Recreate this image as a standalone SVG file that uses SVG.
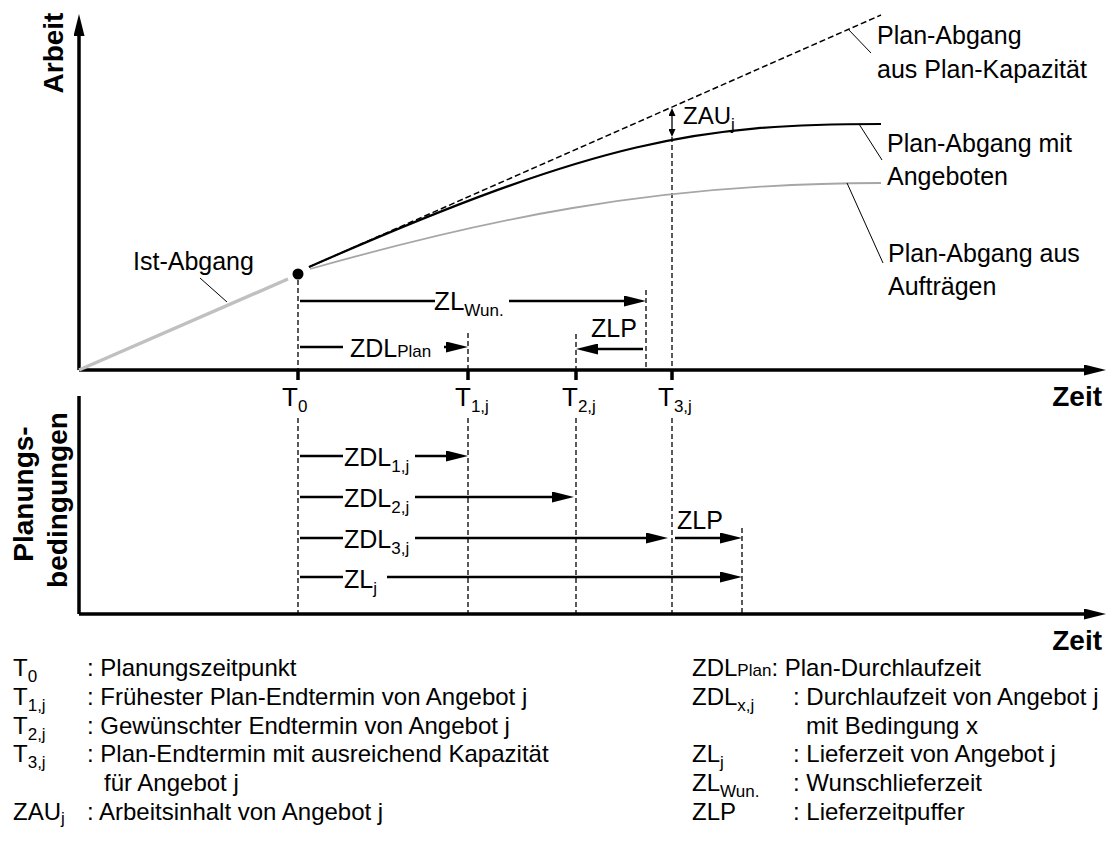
<svg xmlns="http://www.w3.org/2000/svg" width="1111" height="847" viewBox="0 0 1111 847">
<style>
text{font-family:"Liberation Sans",Arial,sans-serif;fill:#000}
.lbl{font-size:25px}
.sub{font-size:17px}
.leg{font-size:24px}
.ax{font-size:28px;font-weight:bold}
.axis{stroke:#000;stroke-width:3.5;fill:none}
.arr{stroke:#000;stroke-width:2.5;fill:none}
.dash{stroke:#000;stroke-width:1.3;stroke-dasharray:5 3;fill:none}
.lead{stroke:#000;stroke-width:1;fill:none}
.tick{stroke:#000;stroke-width:3.5}
</style>
<defs>
<marker id="ah" markerUnits="userSpaceOnUse" markerWidth="22" markerHeight="11" refX="2" refY="5.5" orient="auto" viewBox="0 0 22 11"><path d="M0,0 L22,5.5 L0,11 z" fill="#000"/></marker>
<marker id="sh" markerUnits="userSpaceOnUse" markerWidth="8" markerHeight="7" refX="1" refY="3.5" orient="auto-start-reverse" viewBox="0 0 8 7"><path d="M0,0 L8,3.5 L0,7 z" fill="#000"/></marker>
</defs>
<rect width="1111" height="847" fill="#fff"/>

<g id="axes">
<path class="axis" d="M79,370 L79,34" marker-end="url(#ah)"/>
<path class="axis" d="M79,370 L1086,370" marker-end="url(#ah)"/>
<path class="axis" d="M79,396 L79,614"/>
<path class="axis" d="M79,614 L1086,614" marker-end="url(#ah)"/>
<path class="tick" d="M298,370 V380 M468,370 V380 M576,370 V380 M672,370 V380"/>
<text class="ax" transform="translate(63,53) rotate(-90)" text-anchor="middle">Arbeit</text>
<text class="ax" x="1102" y="406" text-anchor="end">Zeit</text>
<text class="ax" x="1102" y="650" text-anchor="end">Zeit</text>
<text class="ax" transform="translate(33,494) rotate(-90)" text-anchor="middle">Planungs-</text>
<text class="ax" transform="translate(67,500) rotate(-90)" text-anchor="middle">bedingungen</text>
</g>

<g id="guides">
<path class="dash" d="M298,280 V370 M298,418 V614"/>
<path class="dash" d="M468,333 V370 M468,418 V614"/>
<path class="dash" d="M576,334 V370 M576,418 V614"/>
<path class="dash" d="M672,137 V370 M672,418 V614"/>
<path class="dash" d="M646,290 V370"/>
<path class="dash" d="M742,528 V614"/>
</g>

<g id="curves">
<path d="M79,370 L288,279" stroke="#c0c0c0" stroke-width="3.5" fill="none"/>
<path d="M309,267 L881,15" stroke="#000" stroke-width="1.5" stroke-dasharray="6 3" fill="none"/>
<path d="M309,267 C600,139 700,124 881,124" stroke="#000" stroke-width="2.2" fill="none"/>
<path d="M310,269 C480,221 650,183 881,183" stroke="#a6a6a6" stroke-width="1.8" fill="none"/>
<circle cx="298" cy="274" r="5.5" fill="#000"/>
</g>

<g id="leaders">
<path class="lead" d="M200,278 L227,302"/>
<path class="lead" d="M848,29 L871,53"/>
<path class="lead" d="M859,124 L882,160"/>
<path class="lead" d="M847,183 L883,263"/>
</g>

<g id="curve-labels">
<text class="lbl" x="133" y="270">Ist-Abgang</text>
<text class="lbl" x="877" y="44">Plan-Abgang</text>
<text class="lbl" x="877" y="78">aus Plan-Kapazität</text>
<text class="lbl" x="887" y="152">Plan-Abgang mit</text>
<text class="lbl" x="887" y="185">Angeboten</text>
<text class="lbl" x="888" y="262">Plan-Abgang aus</text>
<text class="lbl" x="888" y="295">Aufträgen</text>
</g>

<g id="time-labels">
<text class="lbl" x="282" y="406" style="font-size:26px">T<tspan class="sub" dy="6">0</tspan></text>
<text class="lbl" x="455" y="406" style="font-size:26px">T<tspan class="sub" dy="6">1,j</tspan></text>
<text class="lbl" x="562" y="406" style="font-size:26px">T<tspan class="sub" dy="6">2,j</tspan></text>
<text class="lbl" x="658" y="406" style="font-size:26px">T<tspan class="sub" dy="6">3,j</tspan></text>
</g>

<g id="connectors">
<path d="M672,115 L672,130" stroke="#000" stroke-width="1.3" marker-start="url(#sh)" marker-end="url(#sh)"/>
<path class="arr" d="M300,301 H435"/>
<path class="arr" d="M509,301 H626" marker-end="url(#ah)"/>
<path class="arr" d="M300,347 H343"/>
<path class="arr" d="M444,347 H448" marker-end="url(#ah)"/>
<path class="arr" d="M643,349 H596" marker-end="url(#ah)"/>
<path class="arr" d="M300,456 H343"/>
<path class="arr" d="M415,456 H448" marker-end="url(#ah)"/>
<path class="arr" d="M300,497 H343"/>
<path class="arr" d="M415,497 H554" marker-end="url(#ah)"/>
<path class="arr" d="M300,538 H343"/>
<path class="arr" d="M415,538 H648" marker-end="url(#ah)"/>
<path class="arr" d="M675,538 H722" marker-end="url(#ah)"/>
<path class="arr" d="M300,577 H343"/>
<path class="arr" d="M387,577 H722" marker-end="url(#ah)"/>
</g>

<g id="arrow-labels">
<text class="lbl" x="683" y="124" style="font-size:24px">ZAU<tspan class="sub" dy="6">j</tspan></text>
<text class="lbl" x="434" y="310" style="font-size:26px">ZL<tspan class="sub" dy="6">Wun.</tspan></text>
<text class="lbl" x="350" y="357">ZDL<tspan class="sub">Plan</tspan></text>
<text class="lbl" x="591" y="337">ZLP</text>
<text class="lbl" x="344" y="466">ZDL<tspan class="sub" dy="6">1,j</tspan></text>
<text class="lbl" x="344" y="507">ZDL<tspan class="sub" dy="6">2,j</tspan></text>
<text class="lbl" x="344" y="548">ZDL<tspan class="sub" dy="6">3,j</tspan></text>
<text class="lbl" x="677" y="529">ZLP</text>
<text class="lbl" x="344" y="588">ZL<tspan class="sub" dy="6">j</tspan></text>
</g>

<g id="legend-left">
<text class="leg" x="13" y="676">T<tspan class="sub" dy="6">0</tspan></text>
<text class="leg" x="87" y="676">: Planungszeitpunkt</text>
<text class="leg" x="13" y="705">T<tspan class="sub" dy="6">1,j</tspan></text>
<text class="leg" x="87" y="705">: Frühester Plan-Endtermin von Angebot j</text>
<text class="leg" x="13" y="734">T<tspan class="sub" dy="6">2,j</tspan></text>
<text class="leg" x="87" y="734">: Gewünschter Endtermin von Angebot j</text>
<text class="leg" x="13" y="762">T<tspan class="sub" dy="6">3,j</tspan></text>
<text class="leg" x="87" y="762">: Plan-Endtermin mit ausreichend Kapazität</text>
<text class="leg" x="104" y="791">für Angebot j</text>
<text class="leg" x="13" y="820">ZAU<tspan class="sub" dy="4">j</tspan></text>
<text class="leg" x="87" y="820">: Arbeitsinhalt von Angebot j</text>
</g>

<g id="legend-right">
<text class="leg" x="692" y="676">ZDL<tspan class="sub">Plan</tspan>: Plan-Durchlaufzeit</text>
<text class="leg" x="692" y="705">ZDL<tspan class="sub" dy="6">x,j</tspan></text>
<text class="leg" x="793" y="705">: Durchlaufzeit von Angebot j</text>
<text class="leg" x="806" y="734">mit Bedingung x</text>
<text class="leg" x="692" y="762">ZL<tspan class="sub" dy="6">j</tspan></text>
<text class="leg" x="793" y="762">: Lieferzeit von Angebot j</text>
<text class="leg" x="692" y="791">ZL<tspan class="sub" dy="6">Wun.</tspan></text>
<text class="leg" x="793" y="791">: Wunschlieferzeit</text>
<text class="leg" x="692" y="820">ZLP</text>
<text class="leg" x="793" y="820">: Lieferzeitpuffer</text>
</g>
</svg>
